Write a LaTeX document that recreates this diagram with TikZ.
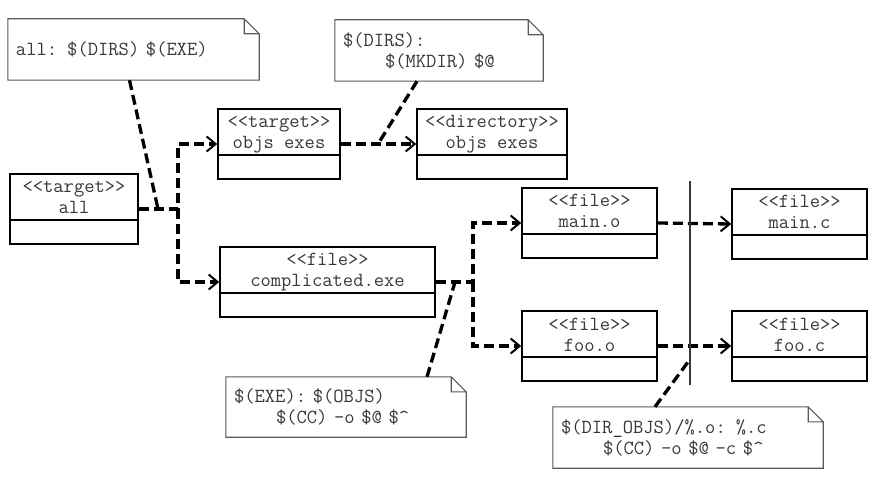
\documentclass[tikz,border=0pt]{standalone}
\usetikzlibrary{arrows.meta}

\newcommand\codefont{\fontsize{20}{21}\selectfont\ttfamily}
\newcommand\stereo[1]{\textless\textless#1\textgreater\textgreater}
\definecolor{inkgray}{gray}{0.22}
\definecolor{notegray}{gray}{0.35}

\begin{document}
\begin{tikzpicture}[x=1pt,y=-1pt,
    umlclass/.style={draw, line width=1.6pt, inner sep=0pt, minimum height=70pt,
      align=center, font=\codefont, text=inkgray, text height=40pt, text depth=30pt,
      path picture={
        \draw[line width=1.6pt] ([yshift=-46pt]path picture bounding box.north west)
          -- ([yshift=-46pt]path picture bounding box.north east);
      }},
    notebox/.style={inner xsep=8pt, inner ysep=0pt, align=left, font=\codefont, text=inkgray,
      append after command={
        \pgfextra{
          \draw[notegray, line width=1.1pt] (\tikzlastnode.south west) -- (\tikzlastnode.north west)
            -- ([xshift=-15pt]\tikzlastnode.north east) -- ([yshift=-15pt]\tikzlastnode.north east)
            -- (\tikzlastnode.south east) -- cycle
            ([xshift=-15pt]\tikzlastnode.north east) |- ([yshift=-15pt]\tikzlastnode.north east);
        }}},
    dep/.style={line width=3.3pt, dash pattern=on 10pt off 5pt,
      -{Straight Barb[length=9pt,width=15pt,line width=2pt]}},
    anchorline/.style={line width=3.3pt, dash pattern=on 10pt off 5pt},
  ]
  \useasboundingbox (0,0) rectangle (880,478);

  % classes
  \node[umlclass, minimum width=128pt] (all) at (74,209) {\stereo{target}\\all};
  \node[umlclass, minimum width=122pt] (objs) at (279,144) {\stereo{target}\\objs exes};
  \node[umlclass, minimum width=150pt] (dirs) at (492,144) {\stereo{directory}\\objs exes};
  \node[umlclass, minimum width=215pt] (exe) at (327.5,282) {\stereo{file}\\complicated.exe};
  \node[umlclass, minimum width=135pt] (maino) at (589.5,223) {\stereo{file}\\main.o};
  \node[umlclass, minimum width=135pt] (mainc) at (799.5,224) {\stereo{file}\\main.c};
  \node[umlclass, minimum width=135pt] (fooo) at (589.5,346) {\stereo{file}\\foo.o};
  \node[umlclass, minimum width=135pt] (fooc) at (799.5,346) {\stereo{file}\\foo.c};

  % notes
  \node[notebox, text width=235pt, minimum height=61pt] (noteall) at (133.5,49.5)
    {all: \$(DIRS) \$(EXE)};
  \node[notebox, text width=192pt, minimum height=61pt] (notedirs) at (439,50.5)
    {\$(DIRS):\\\hspace*{42pt}\$(MKDIR) \$@};
  \node[notebox, text width=224pt, minimum height=60pt] (noteexe) at (346,407)
    {\$(EXE): \$(OBJS)\\\hspace*{42pt}\$(CC) -o \$@ \$\textasciicircum};
  \node[notebox, text width=254pt, minimum height=61pt] (noteobjs) at (688,437.5)
    {\$(DIR\_OBJS)/\%.o: \%.c\\\hspace*{42pt}\$(CC) -o \$@ -c \$\textasciicircum};

  % forks and hooks
  \coordinate (fork1) at (178,209);
  \coordinate (fork2) at (473,282);
  \coordinate (hookall) at (158,209);
  \coordinate (hookdirs) at (378,144);
  \coordinate (hookexe) at (455,282);
  \coordinate (hookobjs) at (688,362);
  \coordinate (septop) at (690,181);
  \coordinate (sepbot) at (690,385);

  % dependencies
  \draw[dep] (all.east) -- (fork1) |- (objs.west);
  \draw[dep] (fork1) |- (exe.west);
  \draw[dep] (objs.east) -- (dirs.west);
  \draw[dep] (exe.east) -- (fork2) |- (maino.west);
  \draw[dep] (fork2) |- (fooo.west);
  \draw[dep] (maino.east) -- (mainc.west);
  \draw[dep] (fooo.east) -- (fooc.west);

  % separator
  \draw[inkgray, line width=1.5pt] (septop) -- (sepbot);

  % note anchors
  \draw[anchorline] ([xshift=-4pt]noteall.south) -- (hookall);
  \draw[anchorline] ([xshift=-22pt]notedirs.south) -- (hookdirs);
  \draw[anchorline] ([xshift=81pt]noteexe.north) -- (hookexe);
  \draw[anchorline] ([xshift=-33pt]noteobjs.north) -- (hookobjs);
\end{tikzpicture}
\end{document}
